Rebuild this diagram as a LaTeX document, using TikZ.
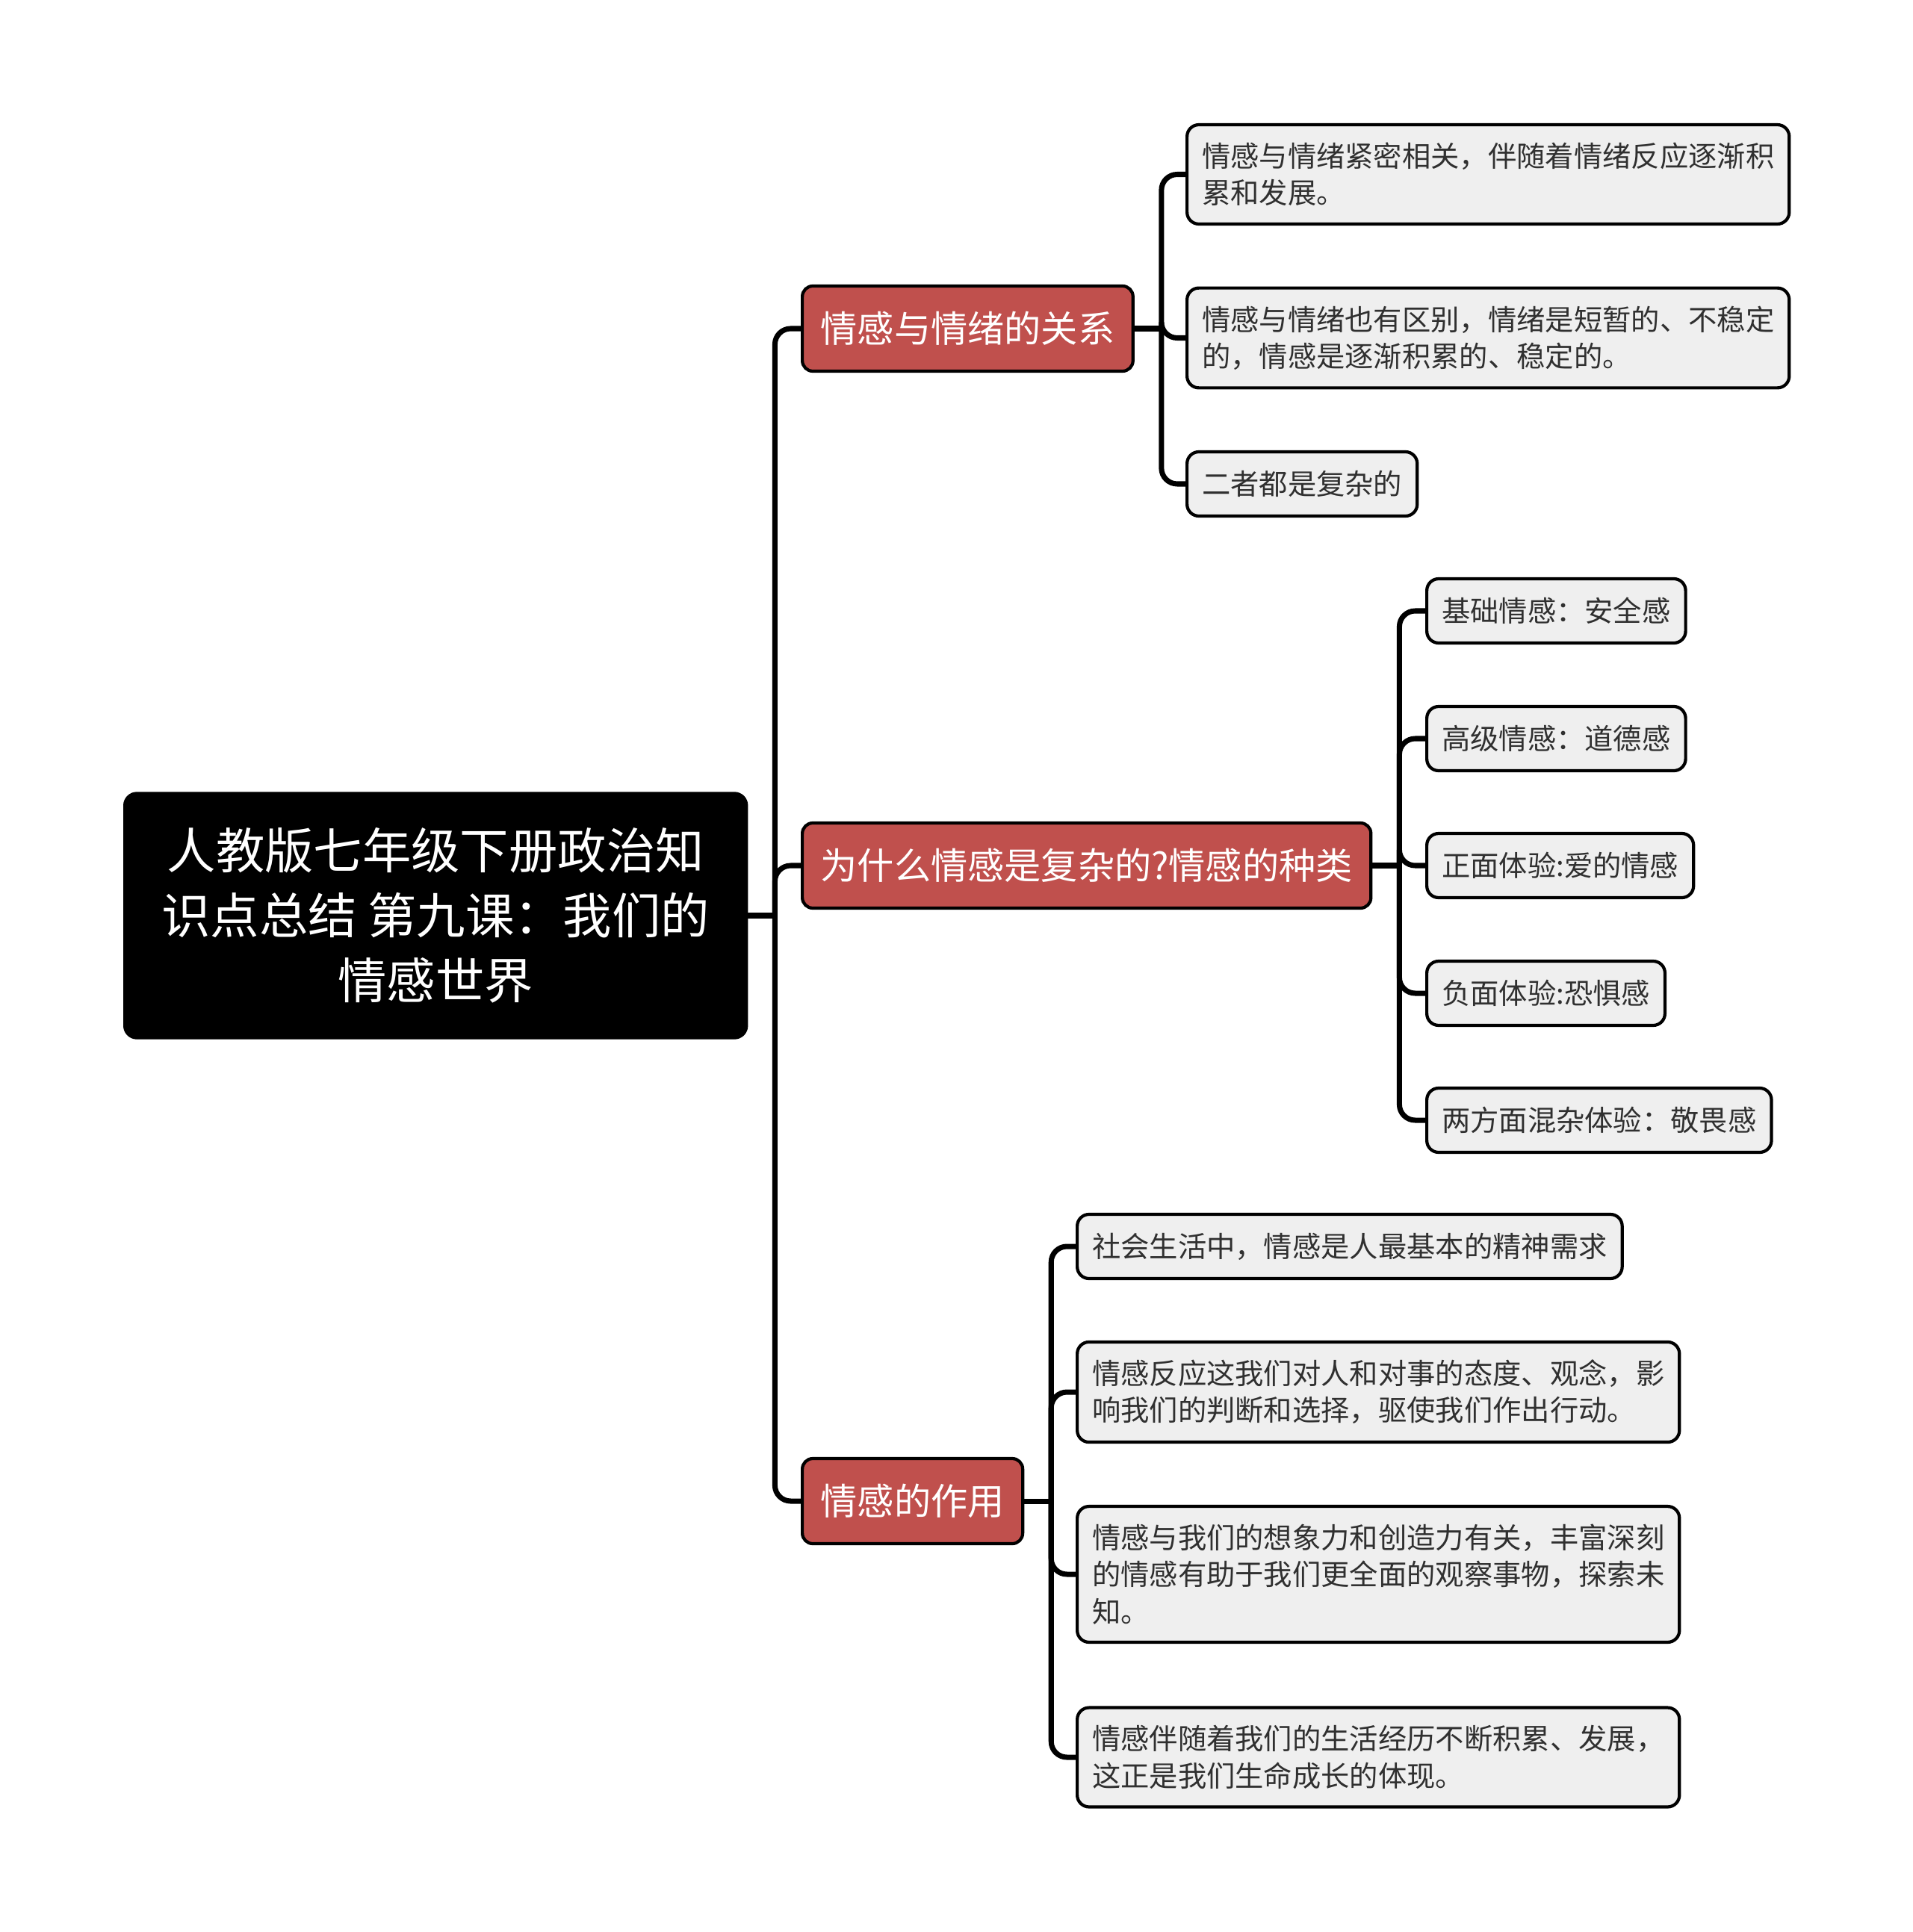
\documentclass[tikz,border=0pt]{standalone}
\usepackage{fontspec}
\setmainfont{Noto Sans CJK SC}
\usetikzlibrary{positioning}
\definecolor{brick}{HTML}{C0504D}
\definecolor{card} {HTML}{EFEFEF}
\definecolor{txt}  {HTML}{303030}
\tikzset{
  % --- nodes
  topic/.style  = {rounded corners=5pt, fill=black, draw=black, text=white, align=center,
                   anchor=west, minimum width=8.35cm, minimum height=3.3cm,
                   font=\fontsize{18.6pt}{24.8pt}\selectfont},
  branch/.style = {rounded corners=4pt, fill=brick, draw=black, line width=1.2pt, text=white,
                   anchor=west, inner xsep=0.245cm, minimum height=1.14cm,
                   font=\fontsize{14pt}{17pt}\selectfont},
  leaf/.style   = {rounded corners=4.5pt, fill=card, draw=black, line width=1.2pt, text=txt,
                   anchor=west, align=left, inner xsep=0.2cm, inner ysep=0.24cm,
                   minimum height=0.86cm, font=\fontsize{10.9pt}{14pt}\selectfont},
  % --- edges
  e/.style      = {line width=2pt, draw=black, rounded corners=6pt},
}
\begin{document}
\begin{tikzpicture}
  \useasboundingbox (0,0) rectangle (25.6,-25.87);

  \node[topic] (root) at (1.65,-12.26) {人教版七年级下册政治知\\识点总结 第九课：我们的\\情感世界};

  \node[branch] (b1) at (10.72,-4.40)  {情感与情绪的关系};
  \node[branch] (b2) at (10.72,-11.59) {为什么情感是复杂的?情感的种类};
  \node[branch] (b3) at (10.72,-20.10) {情感的作用};

  % relation
  \node[leaf] (rel1) at (15.87,-2.335) {情感与情绪紧密相关，伴随着情绪反应逐渐积\\累和发展。};
  \node[leaf] (rel2) at (15.87,-4.525) {情感与情绪也有区别，情绪是短暂的、不稳定\\的，情感是逐渐积累的、稳定的。};
  \node[leaf] (rel3) at (15.87,-6.48)  {二者都是复杂的};

  % kinds
  \node[leaf] (kind1) at (19.08,-8.18)  {基础情感：安全感};
  \node[leaf] (kind2) at (19.08,-9.89)  {高级情感：道德感};
  \node[leaf] (kind3) at (19.08,-11.59) {正面体验:爱的情感};
  \node[leaf] (kind4) at (19.08,-13.30) {负面体验:恐惧感};
  \node[leaf] (kind5) at (19.08,-15.00) {两方面混杂体验：敬畏感};

  % role
  \node[leaf] (role1) at (14.40,-16.69) {社会生活中，情感是人最基本的精神需求};
  \node[leaf] (role2) at (14.40,-18.64) {情感反应这我们对人和对事的态度、观念，影\\响我们的判断和选择，驱使我们作出行动。};
  \node[leaf] (role3) at (14.40,-21.08) {情感与我们的想象力和创造力有关，丰富深刻\\的情感有助于我们更全面的观察事物，探索未\\知。};
  \node[leaf] (role4) at (14.40,-23.53) {情感伴随着我们的生活经历不断积累、发展，\\这正是我们生命成长的体现。};

  \draw[e] (root.east) -- ++(0.36,0) coordinate (rj);
  \foreach \b in {b1,b2,b3} \draw[e] (rj) |- (\b.west);

  \draw[e] (b1.east) -- ++(0.36,0) coordinate (j1);
  \foreach \l in {rel1,rel2,rel3} \draw[e] (j1) |- (\l.west);

  \draw[e] (b2.east) -- ++(0.36,0) coordinate (j2);
  \foreach \l in {kind1,kind2,kind3,kind4,kind5} \draw[e] (j2) |- (\l.west);

  \draw[e] (b3.east) -- ++(0.36,0) coordinate (j3);
  \foreach \l in {role1,role2,role3,role4} \draw[e] (j3) |- (\l.west);
\end{tikzpicture}
\end{document}
